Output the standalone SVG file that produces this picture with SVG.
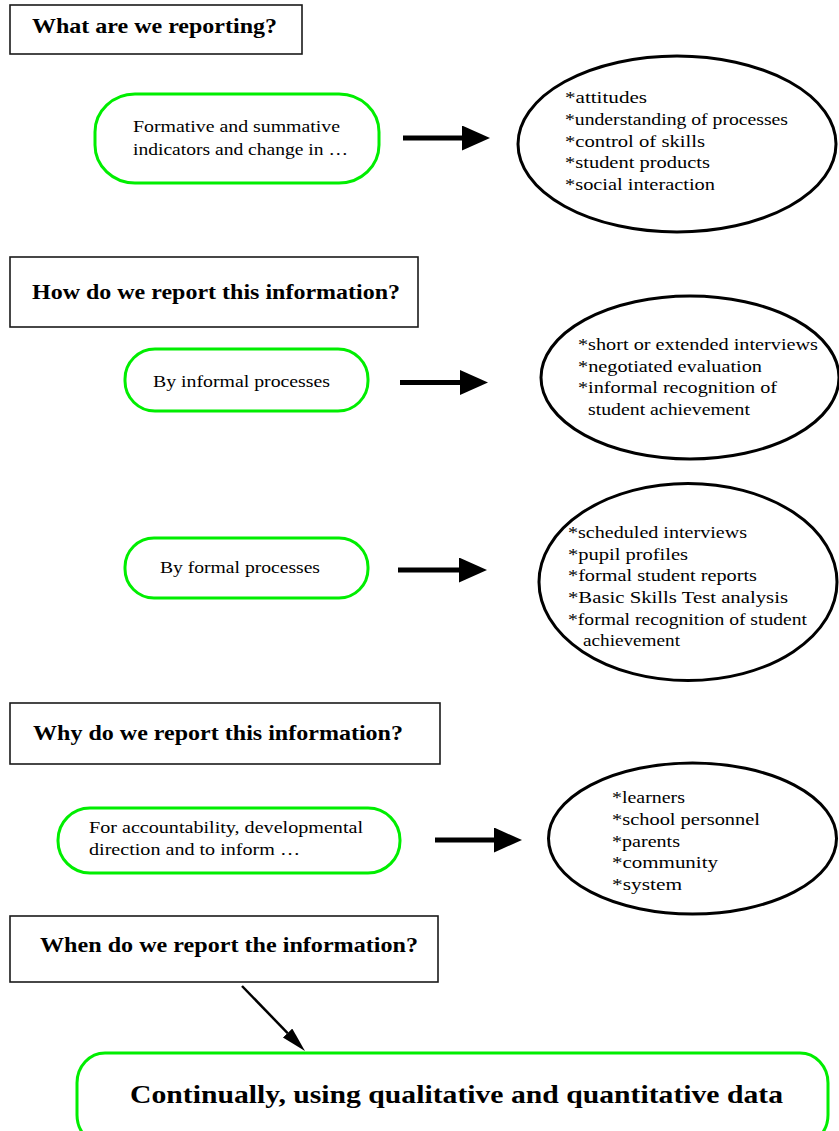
<svg xmlns="http://www.w3.org/2000/svg" width="839" height="1131" viewBox="0 0 839 1131">
<defs>
<style>
.hdr{fill:#fff;stroke:#1a1a1a;stroke-width:1.6}
.ht{font-family:"Liberation Serif","Times New Roman",serif;font-weight:bold;font-size:22px;fill:#000}
.grn{fill:#fff;stroke:#00ee00;stroke-width:3}
.ell{fill:#fff;stroke:#000;stroke-width:3}
.bt{font-family:"Liberation Serif","Times New Roman",serif;font-size:16px;fill:#000}
.big{font-family:"Liberation Serif","Times New Roman",serif;font-weight:bold;font-size:26px;fill:#000}
.arr{stroke:#000;stroke-width:5;fill:none}
.arr2{stroke:#000;stroke-width:2.5;fill:none}
</style>
<marker id="head" markerUnits="userSpaceOnUse" markerWidth="30" markerHeight="26" refX="0" refY="12.5" orient="auto">
<path d="M0,0 L28,12.5 L0,25 Z" fill="#000"/>
</marker>
<marker id="head2" markerUnits="userSpaceOnUse" markerWidth="26" markerHeight="14" refX="0" refY="6.5" orient="auto">
<path d="M0,0 L25,6.5 L0,13 Z" fill="#000"/>
</marker>
</defs>
<rect width="839" height="1131" fill="#fff"/>

<g id="connectors">
<line class="arr" x1="403" y1="138" x2="462" y2="138" marker-end="url(#head)"/>
<line class="arr" x1="400" y1="382.5" x2="460" y2="382.5" marker-end="url(#head)"/>
<line class="arr" x1="398" y1="570" x2="459" y2="570" marker-end="url(#head)"/>
<line class="arr" x1="435" y1="840" x2="494" y2="840" marker-end="url(#head)"/>
<line class="arr2" x1="242" y1="986" x2="287.6" y2="1033.1" marker-end="url(#head2)"/>
</g>

<g id="q1">
<rect class="hdr" x="10" y="5" width="292" height="49"/>
<text class="ht" x="32" y="33" textLength="245" lengthAdjust="spacingAndGlyphs">What are we reporting?</text>
</g>
<g id="what-source">
<rect class="grn" x="95" y="94" width="284" height="89" rx="40" ry="38"/>
<text class="bt" x="133" y="132" textLength="207" lengthAdjust="spacingAndGlyphs">Formative and summative</text>
<text class="bt" x="133" y="155" textLength="215" lengthAdjust="spacingAndGlyphs">indicators and change in …</text>
</g>
<g id="what-list">
<ellipse class="ell" cx="677" cy="144" rx="159" ry="88"/>
<text class="bt" x="565" y="103" textLength="82" lengthAdjust="spacingAndGlyphs">*attitudes</text>
<text class="bt" x="565" y="125" textLength="223" lengthAdjust="spacingAndGlyphs">*understanding of processes</text>
<text class="bt" x="565" y="147" textLength="140" lengthAdjust="spacingAndGlyphs">*control of skills</text>
<text class="bt" x="565" y="168" textLength="145" lengthAdjust="spacingAndGlyphs">*student products</text>
<text class="bt" x="565" y="190" textLength="150" lengthAdjust="spacingAndGlyphs">*social interaction</text>
</g>

<g id="q2">
<rect class="hdr" x="10" y="257" width="408" height="70"/>
<text class="ht" x="32" y="299" textLength="368" lengthAdjust="spacingAndGlyphs">How do we report this information?</text>
</g>
<g id="informal">
<rect class="grn" x="125" y="349" width="243" height="62" rx="30" ry="30"/>
<text class="bt" x="153" y="387" textLength="177" lengthAdjust="spacingAndGlyphs">By informal processes</text>
</g>
<g id="informal-list">
<ellipse class="ell" cx="690" cy="377.5" rx="149" ry="81.5"/>
<text class="bt" x="578" y="350" textLength="240" lengthAdjust="spacingAndGlyphs">*short or extended interviews</text>
<text class="bt" x="578" y="372" textLength="184" lengthAdjust="spacingAndGlyphs">*negotiated evaluation</text>
<text class="bt" x="578" y="393" textLength="199" lengthAdjust="spacingAndGlyphs">*informal recognition of</text>
<text class="bt" x="588" y="415" textLength="162" lengthAdjust="spacingAndGlyphs">student achievement</text>
</g>

<g id="formal">
<rect class="grn" x="125" y="538" width="243" height="60" rx="29" ry="29"/>
<text class="bt" x="160" y="573" textLength="160" lengthAdjust="spacingAndGlyphs">By formal processes</text>
</g>
<g id="formal-list">
<ellipse class="ell" cx="688" cy="582" rx="149" ry="98.5"/>
<text class="bt" x="568" y="538" textLength="179" lengthAdjust="spacingAndGlyphs">*scheduled interviews</text>
<text class="bt" x="568" y="560" textLength="120" lengthAdjust="spacingAndGlyphs">*pupil profiles</text>
<text class="bt" x="568" y="581" textLength="189" lengthAdjust="spacingAndGlyphs">*formal student reports</text>
<text class="bt" x="568" y="603" textLength="220" lengthAdjust="spacingAndGlyphs">*Basic Skills Test analysis</text>
<text class="bt" x="568" y="625" textLength="239" lengthAdjust="spacingAndGlyphs">*formal recognition of student</text>
<text class="bt" x="583" y="646" textLength="97" lengthAdjust="spacingAndGlyphs">achievement</text>
</g>

<g id="q3">
<rect class="hdr" x="10" y="703" width="430" height="61"/>
<text class="ht" x="33" y="740" textLength="370" lengthAdjust="spacingAndGlyphs">Why do we report this information?</text>
</g>
<g id="why-source">
<rect class="grn" x="58" y="808" width="342" height="65" rx="32" ry="32"/>
<text class="bt" x="89" y="833" textLength="274" lengthAdjust="spacingAndGlyphs">For accountability, developmental</text>
<text class="bt" x="89" y="855" textLength="211" lengthAdjust="spacingAndGlyphs">direction and to inform …</text>
</g>
<g id="why-list">
<ellipse class="ell" cx="692.5" cy="838.5" rx="144" ry="75.5"/>
<text class="bt" x="612" y="803" textLength="73" lengthAdjust="spacingAndGlyphs">*learners</text>
<text class="bt" x="612" y="825" textLength="148" lengthAdjust="spacingAndGlyphs">*school personnel</text>
<text class="bt" x="612" y="847" textLength="68" lengthAdjust="spacingAndGlyphs">*parents</text>
<text class="bt" x="612" y="868" textLength="106" lengthAdjust="spacingAndGlyphs">*community</text>
<text class="bt" x="612" y="890" textLength="70" lengthAdjust="spacingAndGlyphs">*system</text>
</g>

<g id="q4">
<rect class="hdr" x="10" y="916" width="428" height="66"/>
<text class="ht" x="40" y="952" textLength="378" lengthAdjust="spacingAndGlyphs">When do we report the information?</text>
</g>
<g id="when">
<rect class="grn" x="77" y="1053" width="751" height="92" rx="28" ry="30"/>
<text class="big" x="130" y="1103" textLength="653" lengthAdjust="spacingAndGlyphs">Continually, using qualitative and quantitative data</text>
</g>
</svg>
